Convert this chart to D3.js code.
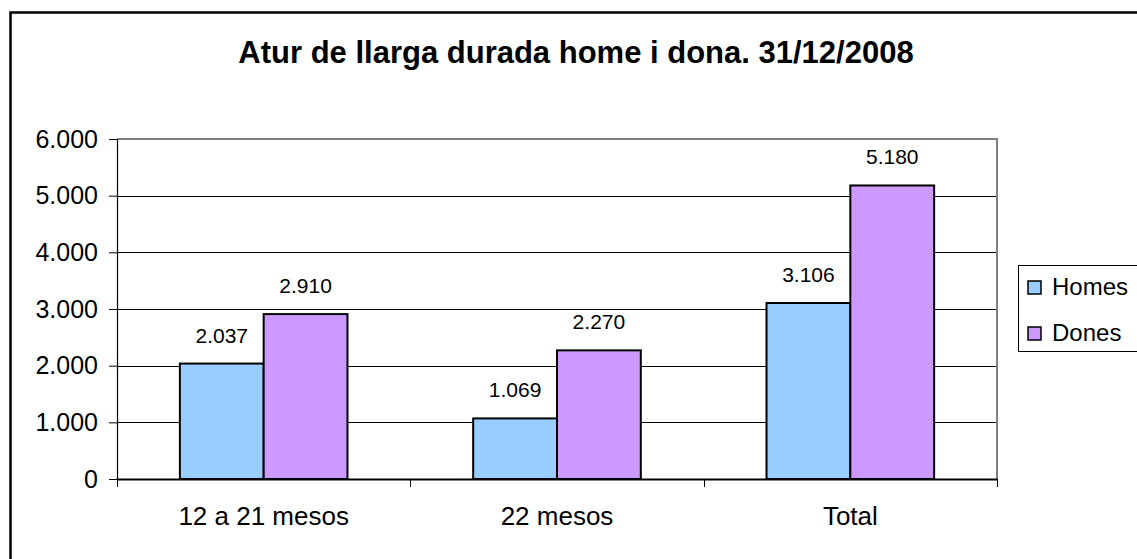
<!DOCTYPE html>
<html>
<head>
<meta charset="utf-8">
<script src="https://cdn.jsdelivr.net/npm/d3@7"></script>
<style>
  body { margin: 0; background: #fff; }
  svg { display: block; font-family: "Liberation Sans", Arial, sans-serif; }
</style>
</head>
<body>
<div id="chart-area"></div>
<script>
// data
var categories = ["12 a 21 mesos", "22 mesos", "Total"];
var series = ["Homes", "Dones"];
var homes = [2037, 1069, 3106];
var dones = [2910, 2270, 5180];
var yTicks = [0, 1000, 2000, 3000, 4000, 5000, 6000];
var colors = ["#99ccff", "#cc99ff"];

var values = [homes, dones];
var data = categories.map((c, i) => ({
    cat: c,
    vals: series.map((s, j) => ({ key: s, value: values[j][i], color: colors[j] }))
}));

var ca = d3.formatLocale({ decimal: ",", thousands: ".", grouping: [3], currency: ["", "€"] });
var fmt = ca.format(",");

var svg = d3.select("#chart-area").append("svg")
    .attr("width", 1137)
    .attr("height", 559);

// outer chart border (runs off the picture at right and bottom)
svg.append("rect")
    .attr("x", 10.5).attr("y", 12.5)
    .attr("width", 1140).attr("height", 560)
    .attr("fill", "#fff")
    .attr("stroke", "#000")
    .attr("stroke-width", 2.5);

var pLeft = 117, pRight = 997, pTop = 139, pBottom = 479;

var x = d3.scaleBand()
    .domain(categories)
    .range([pLeft, pRight]);

var bw = x.bandwidth();
var x1 = d3.scaleBand()
    .domain(series)
    .range([0.75 * bw / 3.5, bw - 0.75 * bw / 3.5]);

var y = d3.scaleLinear()
    .domain([0, 6000])
    .range([pBottom, pTop]);

// title
svg.append("text")
    .attr("x", 576)
    .attr("y", 63)
    .attr("text-anchor", "middle")
    .style("font-size", "31px")
    .style("font-weight", "bold")
    .text("Atur de llarga durada home i dona. 31/12/2008");

// gridlines
svg.append("g")
    .selectAll("line")
    .data(yTicks.filter(d => d > 0 && d < 6000))
    .enter()
    .append("line")
    .attr("x1", pLeft).attr("x2", pRight)
    .attr("y1", d => Math.round(y(d)) + 0.5)
    .attr("y2", d => Math.round(y(d)) + 0.5)
    .attr("stroke", "#000");

// plot area border (grey top / right)
svg.append("path")
    .attr("d", `M${pLeft},${pTop} H${pRight} V${pBottom}`)
    .attr("fill", "none")
    .attr("stroke", "#808080")
    .attr("stroke-width", 2);

// bars
var groups = svg.selectAll(".grp")
    .data(data)
    .enter()
    .append("g")
    .attr("class", "grp")
    .attr("transform", d => `translate(${x(d.cat)},0)`);

groups.selectAll("rect")
    .data(d => d.vals)
    .enter()
    .append("rect")
    .attr("x", d => x1(d.key))
    .attr("y", d => y(d.value))
    .attr("width", x1.bandwidth())
    .attr("height", d => pBottom - y(d.value))
    .attr("fill", d => d.color)
    .attr("stroke", "#000")
    .attr("stroke-width", 2);

groups.selectAll("text")
    .data(d => d.vals)
    .enter()
    .append("text")
    .attr("x", d => x1(d.key) + x1.bandwidth() / 2)
    .attr("y", d => y(d.value) - 21)
    .attr("text-anchor", "middle")
    .style("font-size", "21px")
    .text(d => fmt(d.value));

// y axis
var yAxis = d3.axisLeft(y)
    .tickValues(yTicks)
    .tickFormat(fmt)
    .tickSize(8)
    .tickPadding(11);

var gy = svg.append("g")
    .attr("transform", `translate(${pLeft},0)`)
    .call(yAxis);
gy.select(".domain").attr("stroke", "#000").attr("stroke-width", 1.2);
gy.selectAll("text").style("font-size", "25px").attr("fill", "#000").attr("font-family", null);

// x axis
var xAxis = d3.axisBottom(x).tickSize(0).tickPadding(28);
var gx = svg.append("g")
    .attr("transform", `translate(0,${pBottom})`)
    .call(xAxis);
gx.select(".domain").attr("stroke", "#000").attr("stroke-width", 2);
gx.selectAll("text").style("font-size", "26px").attr("fill", "#000").attr("font-family", null);

// category boundary ticks
var bounds = categories.map(c => x(c)).concat([pRight]);
svg.append("g")
    .selectAll("line")
    .data(bounds)
    .enter()
    .append("line")
    .attr("x1", d => Math.round(d) + 0.5).attr("x2", d => Math.round(d) + 0.5)
    .attr("y1", pBottom).attr("y2", pBottom + 8)
    .attr("stroke", "#000");

// legend
var lg = svg.append("g").attr("transform", "translate(1018,265)");
lg.append("rect")
    .attr("x", 0.5).attr("y", 0.5)
    .attr("width", 130).attr("height", 86)
    .attr("fill", "#fff")
    .attr("stroke", "#000");

var items = lg.selectAll(".item")
    .data(series)
    .enter()
    .append("g")
    .attr("class", "item")
    .attr("transform", (d, i) => `translate(0,${22 + i * 46})`);

items.append("rect")
    .attr("x", 10).attr("y", -6)
    .attr("width", 13).attr("height", 13)
    .attr("fill", (d, i) => colors[i])
    .attr("stroke", "#000")
    .attr("stroke-width", 1.5);

items.append("text")
    .attr("x", 34)
    .attr("y", 0)
    .attr("dy", "0.35em")
    .style("font-size", "24px")
    .text(d => d);
</script>
</body>
</html>
